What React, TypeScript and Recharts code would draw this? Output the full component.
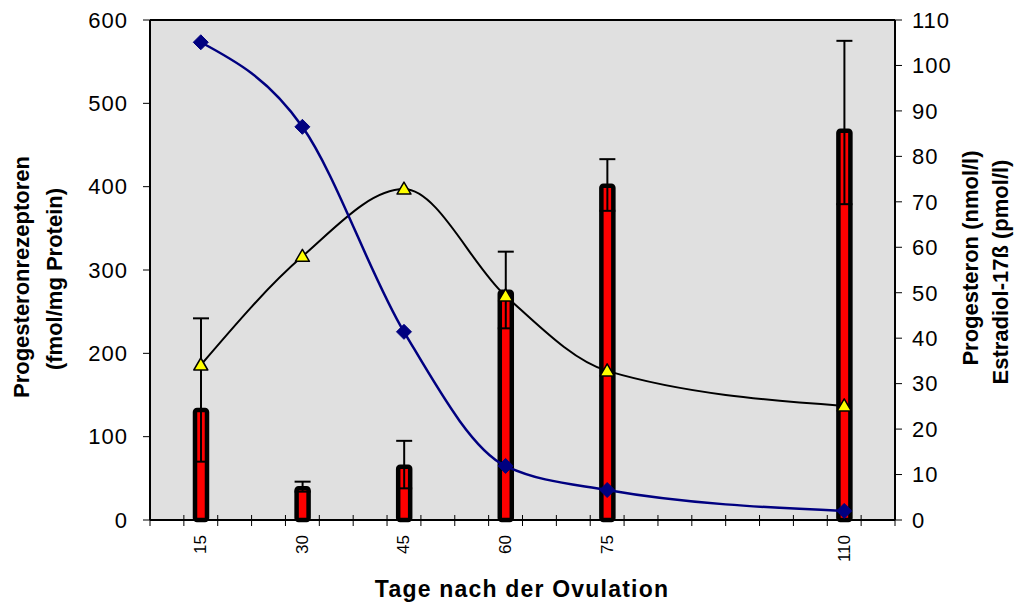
import React from 'react';
import { ComposedChart, Bar, Line, XAxis, YAxis, ErrorBar, ReferenceLine, CartesianGrid, Label } from 'recharts';

// Tage nach der Ovulation
const days = [15, 30, 45, 60, 75, 110];
// Progesteronrezeptoren (fmol/mg Protein), linke Achse
const rezeptoren = [132, 38, 64, 274, 401, 467];
// Fehlerbalken [unten, oben]
const rezeptorenFehler = [[62, 110], [4, 8], [26, 31], [44, 48], [30, 32], [88, 108]];
// rechte Achse
const progesteron = [105.1, 86.5, 41.4, 11.9, 6.6, 2.0];
const estradiol = [34.1, 58.0, 72.8, 49.3, 32.8, 25.1];

const leftTicks = [0, 100, 200, 300, 400, 500, 600];
const rightTicks = [0, 10, 20, 30, 40, 50, 60, 70, 80, 90, 100, 110];
// tick marks between the 5-day slots
const slotEdges = Array.from({ length: 23 }, (_, i) => 7.5 + i * 5);

const data = days.map((d, i) => ({
  day: d,
  rez: rezeptoren[i],
  err: rezeptorenFehler[i],
  prog: progesteron[i],
  estr: estradiol[i],
}));

const FONT = '"Liberation Sans", Arial, sans-serif';

const XTick = (props: any) => {
  const { x, y, payload } = props;
  const v = payload.value;
  if (days.includes(v)) {
    const ty = y + 15;
    return (
      <text x={x} y={ty} transform={`rotate(-90 ${x} ${ty})`} textAnchor="end" dominantBaseline="central"
        fontSize={17} fontFamily={FONT} fill="#000">
        {v}
      </text>
    );
  }
  return <line x1={x} x2={x} y1={y - 5} y2={y + 6} stroke="#000" strokeWidth={1} />;
};

const Diamond = (props: any) => {
  const { cx, cy, index } = props;
  if (cx == null || cy == null) return null;
  const r = 7.5;
  return (
    <path key={`d${index}`} d={`M${cx},${cy - r} L${cx + r},${cy} L${cx},${cy + r} L${cx - r},${cy} Z`}
      fill="#000080" stroke="#000080" strokeWidth={1} />
  );
};

const Triangle = (props: any) => {
  const { cx, cy, index } = props;
  if (cx == null || cy == null) return null;
  return (
    <path key={`t${index}`} d={`M${cx},${cy - 7} L${cx + 7},${cy + 5} L${cx - 7},${cy + 5} Z`}
      fill="#ffff00" stroke="#000" strokeWidth={1.5} strokeLinejoin="round" />
  );
};

const App: React.FC = () => {
  return (
    <div style={{ position: 'absolute', left: 0, top: 0, background: '#fff' }}>
      <ComposedChart width={1022} height={604} data={data} margin={{ top: 20, right: 57, left: 70, bottom: 24 }}>
        <CartesianGrid fill="#e0e0e0" horizontal={false} vertical={false} yAxisId="left" />
        <XAxis
          dataKey="day"
          type="number"
          domain={[7.5, 117.5]}
          ticks={[...slotEdges, ...days].sort((a, b) => a - b)}
          interval={0}
          tickLine={false}
          tickSize={0}
          tickMargin={0}
          tick={<XTick />}
          axisLine={{ stroke: '#000', strokeWidth: 2 }}
          height={60}
        >
          <Label
            content={() => (
              <text x={522} y={597} textAnchor="middle" fontSize={23} fontWeight="bold" fontFamily={FONT}
                letterSpacing={1.2} fill="#000">
                Tage nach der Ovulation
              </text>
            )}
          />
        </XAxis>
        <YAxis
          yAxisId="left"
          domain={[0, 600]}
          ticks={leftTicks}
          width={80}
          tickSize={7}
          tickMargin={15}
          tick={{ fill: '#000', fontSize: 22, fontFamily: FONT, letterSpacing: 1 }}
          tickLine={{ stroke: '#000' }}
          axisLine={{ stroke: '#000', strokeWidth: 2 }}
        >
          <Label
            content={() => (
              <g fontSize={22} fontWeight="bold" fontFamily={FONT} fill="#000">
                <text x={29} y={277} transform="rotate(-90 29 277)" textAnchor="middle">Progesteronrezeptoren</text>
                <text x={62} y={279} transform="rotate(-90 62 279)" textAnchor="middle">(fmol/mg Protein)</text>
              </g>
            )}
          />
        </YAxis>
        <YAxis
          yAxisId="right"
          orientation="right"
          domain={[0, 110]}
          ticks={rightTicks}
          width={70}
          tickSize={7}
          tickMargin={10}
          tick={{ fill: '#000', fontSize: 22, fontFamily: FONT, letterSpacing: 1 }}
          tickLine={{ stroke: '#000' }}
          axisLine={{ stroke: '#000', strokeWidth: 2 }}
        >
          <Label
            content={() => (
              <g fontSize={22} fontWeight="bold" fontFamily={FONT} fill="#000">
                <text x={978} y={258} transform="rotate(-90 978 258)" textAnchor="middle">Progesteron (nmol/l)</text>
                <text x={1008} y={272} transform="rotate(-90 1008 272)" textAnchor="middle">Estradiol-17ß (pmol/l)</text>
              </g>
            )}
          />
        </YAxis>
        <ReferenceLine yAxisId="left" y={600} stroke="#000" strokeWidth={2} />
        <Bar yAxisId="left" dataKey="rez" barSize={12} fill="#ff0000" stroke="#000" strokeWidth={4.5} radius={2}
          isAnimationActive={false}>
          <ErrorBar dataKey="err" width={8} stroke="#000" strokeWidth={2} direction="y" />
        </Bar>
        <Line yAxisId="right" type="monotone" dataKey="estr" stroke="#000" strokeWidth={2} dot={Triangle}
          activeDot={false} isAnimationActive={false} />
        <Line yAxisId="right" type="monotone" dataKey="prog" stroke="#000080" strokeWidth={2.5} dot={Diamond}
          activeDot={false} isAnimationActive={false} />
      </ComposedChart>
    </div>
  );
};

export default App;
